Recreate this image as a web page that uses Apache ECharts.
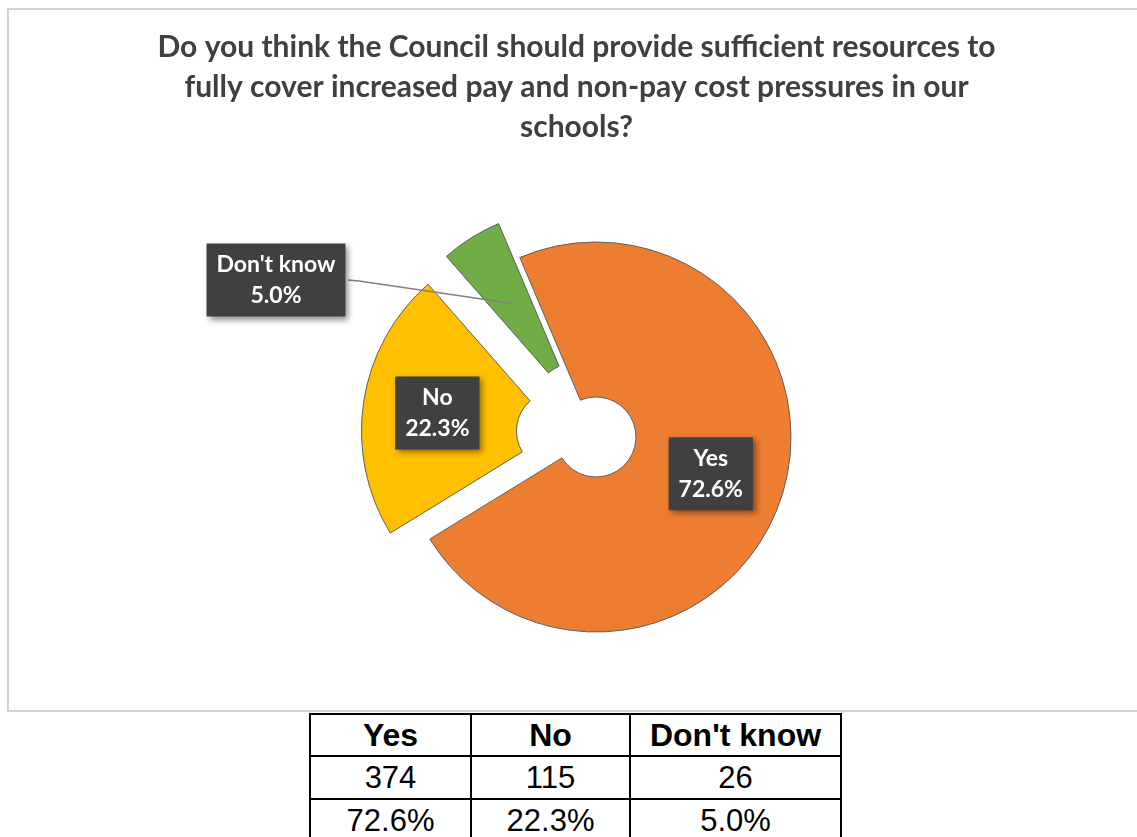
<!DOCTYPE html>
<html>
<head>
<meta charset="utf-8">
<script src="https://cdn.jsdelivr.net/npm/echarts@6.0.0/dist/echarts.min.js"></script>
<style>
    body {margin: 0; background: #fff; overflow: hidden; width: 1137px; height: 837px; position: relative;}
    #frame {position: absolute; left: 7px; top: 8px; width: 1200px; height: 704px; border: 2px solid #d4d4d4; box-sizing: border-box;}
    #chart {position: absolute; left: 8px; top: 8px; width: 1137px; height: 702px;}
    #tbl {position: absolute; left: 309px; top: 713px; border-collapse: collapse; font-family: "Liberation Sans", Arial, sans-serif; color: #000;}
    #tbl td {border: 2px solid #000; text-align: center; padding: 0; font-size: 31px; line-height: 31px;}
    #tbl tr.head td {font-weight: bold; font-size: 32px; height: 40px;}
    #tbl tr.row td {height: 41px;}
</style>
</head>
<body>
<div id="frame"></div>
<div id="chart"></div>
<table id="tbl"></table>
<script>
// 数据
var categories = ['Yes', 'No', "Don't know"];
var counts = [374, 115, 26];
var colors = ['#ED7D31', '#FFC000', '#70AD47'];
var exploded = [false, true, true];
var title = 'Do you think the Council should provide sufficient resources to\nfully cover increased pay and non-pay cost pressures in our\nschools?';

var total = counts.reduce(function (a, b) { return a + b; }, 0);
function pct(v) { return (v / total * 100).toFixed(1); }

// 表格
var tbl = document.getElementById('tbl');
var colW = [159, 157, 209];
var rows = [categories, counts.map(String), counts.map(function (v) { return pct(v) + '%'; })];
rows.forEach(function (r, ri) {
    var tr = document.createElement('tr');
    tr.className = ri === 0 ? 'head' : 'row';
    r.forEach(function (t, ci) {
        var td = document.createElement('td');
        td.textContent = t;
        td.style.width = colW[ci] + 'px';
        tr.appendChild(td);
    });
    tbl.appendChild(tr);
});

// 饼图
var startAngle = 113;
var center = [588, 429];
var radius = [40, 195];
var offset = 40;

// 扇区内部标签点（含选中偏移）
function innerPoint(idx) {
    var before = 0;
    for (var i = 0; i < idx; i++) before += counts[i];
    var mid = (startAngle - (before + counts[idx] / 2) / total * 360) * Math.PI / 180;
    var dx = Math.cos(mid), dy = -Math.sin(mid);
    var r = (radius[0] + radius[1]) / 2 + (exploded[idx] ? offset : 0);
    return [center[0] + dx * r, center[1] + dy * r];
}

var labelFont = {fontFamily: 'Lato', fontWeight: 'bold', fontSize: 23, lineHeight: 31};
var boxStyle = {
    backgroundColor: '#404040',
    padding: [6, 10, 5, 10],
    shadowColor: 'rgba(0,0,0,0.45)',
    shadowBlur: 6,
    shadowOffsetX: 3,
    shadowOffsetY: 3
};

// Don't know 标签放到左边，用引导线连回扇区
var dk = 2;
var dkPos = [268, 272];
var dkHalfW = 72;
var dkIn = innerPoint(dk);

var myChart = echarts.init(document.getElementById('chart'));
myChart.setOption({
    animation: false,
    title: {
        text: title,
        left: 'center',
        top: 19,
        padding: 0,
        textStyle: {
            fontFamily: 'Lato',
            fontWeight: 'bold',
            fontSize: 30,
            lineHeight: 40,
            color: '#404040'
        }
    },
    graphic: [
        {
            type: 'polyline',
            z: 10,
            silent: true,
            shape: {
                points: [
                    [dkPos[0] + dkHalfW, dkPos[1]],
                    [dkPos[0] + dkHalfW + 11, dkPos[1] + 1],
                    dkIn
                ]
            },
            style: {stroke: '#808080', lineWidth: 1.5, fill: null}
        },
        {
            type: 'text',
            z: 11,
            silent: true,
            x: dkPos[0],
            y: dkPos[1],
            style: Object.assign({
                text: categories[dk] + '\n' + pct(counts[dk]) + '%',
                fill: '#fff',
                align: 'center',
                verticalAlign: 'middle',
                textAlign: 'center',
                textVerticalAlign: 'middle'
            }, labelFont, boxStyle)
        }
    ],
    series: [
        {
            type: 'pie',
            center: center,
            radius: radius,
            startAngle: startAngle,
            clockwise: true,
            selectedMode: 'multiple',
            selectedOffset: offset,
            avoidLabelOverlap: false,
            emphasis: {disabled: true},
            itemStyle: {borderColor: '#5e5e5e', borderWidth: 1},
            label: Object.assign({
                show: true,
                position: 'inside',
                color: '#fff',
                formatter: function (p) { return p.name + '\n' + pct(p.value) + '%'; }
            }, labelFont, boxStyle),
            labelLine: {show: false},
            data: categories.map(function (c, i) {
                return {
                    name: c,
                    value: counts[i],
                    selected: exploded[i],
                    itemStyle: {color: colors[i]},
                    label: {show: i !== dk}
                };
            })
        }
    ]
});
</script>
</body>
</html>
